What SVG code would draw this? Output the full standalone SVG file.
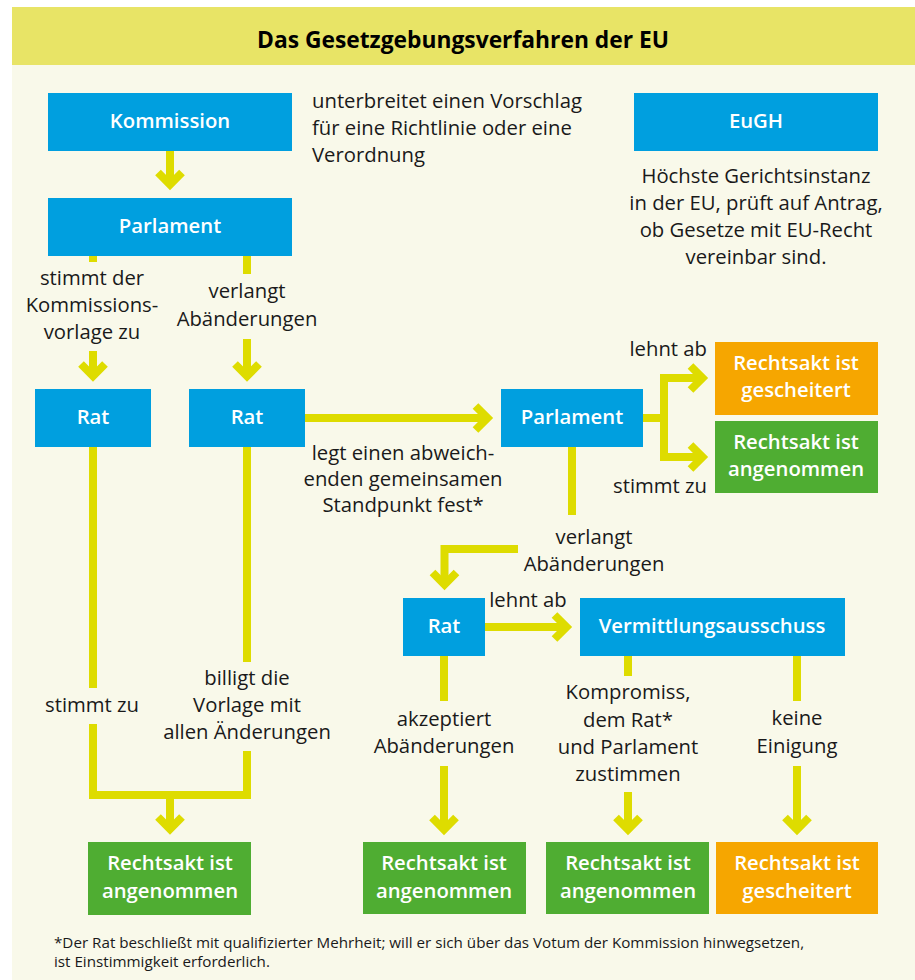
<svg xmlns="http://www.w3.org/2000/svg" width="915" height="980" viewBox="0 0 915 980">
<style>
.t{font-family:"Open Sans","Noto Sans","Liberation Sans",sans-serif;font-size:20.3px;fill:#1a1a1a}
.c{text-anchor:middle}
.r{text-anchor:end}
.b{font-family:"Open Sans","Noto Sans","Liberation Sans",sans-serif;font-size:20.3px;font-weight:600;fill:#ffffff;text-anchor:middle}
.blue{fill:#009fdf}
.green{fill:#4fad32}
.orange{fill:#f6a600}
.ln{fill:none;stroke:#dedc00;stroke-width:8;stroke-linejoin:miter;stroke-linecap:butt}
.ar{marker-end:url(#chev)}
.fn{font-family:"Open Sans","Noto Sans","Liberation Sans",sans-serif;font-size:15.2px;fill:#1a1a1a}
</style>
<defs>
<marker id="chev" markerUnits="userSpaceOnUse" viewBox="-20 -20 30 40" markerWidth="30" markerHeight="40" refX="0" refY="0" orient="auto" overflow="visible">
<path d="M-12,-12 L0,0 L-12,12" fill="none" stroke="#dedc00" stroke-width="8" stroke-linejoin="miter"/>
</marker>
</defs>
<rect x="0" y="0" width="915" height="980" fill="#ffffff"/>
<rect x="12" y="7" width="903" height="973" fill="#f9f9ea"/>
<rect x="12" y="7" width="903" height="58" fill="#e8e466"/>
<text x="463" y="48" class="t c" style="font-size:22.8px;font-weight:700;fill:#000">Das Gesetzgebungsverfahren der EU</text>

<g id="connectors">
<path class="ln ar" d="M170,151 V184.5"/>
<path class="ln" d="M93,256 V262"/>
<path class="ln ar" d="M93,351 V376"/>
<path class="ln" d="M247,256 V274"/>
<path class="ln ar" d="M247,339 V376"/>
<path class="ln ar" d="M305,418 H487.5"/>
<path class="ln" d="M643,418 H664"/>
<path class="ln ar" d="M702.5,457 H664 V378 H702.5"/>
<path class="ln ar" d="M664,457 H702.5"/>
<path class="ln" d="M572,447 V515"/>
<path class="ln ar" d="M518,549 H444.5 V584.5"/>
<path class="ln ar" d="M485,627 H566.5"/>
<path class="ln" d="M93,447 V688"/>
<path class="ln" d="M247,447 V662"/>
<path class="ln" d="M93,724 V795 H247 V751"/>
<path class="ln ar" d="M170,795 V829"/>
<path class="ln" d="M444,656 V701"/>
<path class="ln ar" d="M444,766 V829.5"/>
<path class="ln" d="M628,656 V676"/>
<path class="ln ar" d="M628,792 V829.5"/>
<path class="ln" d="M797,656 V701"/>
<path class="ln ar" d="M797,766 V829.5"/>
</g>

<g id="labels">
<text class="t" x="312" y="108">unterbreitet einen Vorschlag</text>
<text class="t" x="312" y="135">für eine Richtlinie oder eine</text>
<text class="t" x="312" y="162">Verordnung</text>
<text class="t c" x="756" y="183">Höchste Gerichtsinstanz</text>
<text class="t c" x="756" y="210">in der EU, prüft auf Antrag,</text>
<text class="t c" x="756" y="237">ob Gesetze mit EU-Recht</text>
<text class="t c" x="756" y="264">vereinbar sind.</text>
<text class="t c" x="92" y="285">stimmt der</text>
<text class="t c" x="92" y="312">Kommissions-</text>
<text class="t c" x="92" y="339">vorlage zu</text>
<text class="t c" x="247" y="298">verlangt</text>
<text class="t c" x="247" y="326">Abänderungen</text>
<text class="t c" x="403" y="460">legt einen abweich-</text>
<text class="t c" x="403" y="486">enden gemeinsamen</text>
<text class="t c" x="403" y="512">Standpunkt fest*</text>
<text class="t r" x="707" y="356">lehnt ab</text>
<text class="t r" x="707" y="493">stimmt zu</text>
<text class="t c" x="594" y="544">verlangt</text>
<text class="t c" x="594" y="571">Abänderungen</text>
<text class="t c" x="528" y="607">lehnt ab</text>
<text class="t c" x="92" y="712">stimmt zu</text>
<text class="t c" x="247" y="685">billigt die</text>
<text class="t c" x="247" y="712">Vorlage mit</text>
<text class="t c" x="247" y="739">allen Änderungen</text>
<text class="t c" x="444" y="726">akzeptiert</text>
<text class="t c" x="444" y="753">Abänderungen</text>
<text class="t c" x="628" y="699">Kompromiss,</text>
<text class="t c" x="628" y="727">dem Rat*</text>
<text class="t c" x="628" y="754">und Parlament</text>
<text class="t c" x="628" y="781">zustimmen</text>
<text class="t c" x="797" y="725">keine</text>
<text class="t c" x="797" y="753">Einigung</text>
<text class="fn" x="54" y="948">*Der Rat beschließt mit qualifizierter Mehrheit; will er sich über das Votum der Kommission hinwegsetzen,</text>
<text class="fn" x="54" y="967">ist Einstimmigkeit erforderlich.</text>
</g>

<g id="kommission"><rect class="blue" x="48" y="93" width="244" height="58"/><text class="b" x="170" y="128">Kommission</text></g>
<g id="eugh"><rect class="blue" x="634" y="93" width="244" height="58"/><text class="b" x="756" y="128">EuGH</text></g>
<g id="parlament1"><rect class="blue" x="48" y="198" width="244" height="58"/><text class="b" x="170" y="233">Parlament</text></g>
<g id="rat1"><rect class="blue" x="35" y="389" width="116" height="58"/><text class="b" x="93" y="424">Rat</text></g>
<g id="rat2"><rect class="blue" x="189" y="389" width="116" height="58"/><text class="b" x="247" y="424">Rat</text></g>
<g id="parlament2"><rect class="blue" x="501" y="389" width="142" height="58"/><text class="b" x="572" y="424">Parlament</text></g>
<g id="gescheitert1"><rect class="orange" x="715" y="342" width="163" height="73"/><text class="b" x="796" y="370">Rechtsakt ist</text><text class="b" x="796" y="397">gescheitert</text></g>
<g id="angenommen1"><rect class="green" x="715" y="421" width="163" height="72"/><text class="b" x="796" y="449">Rechtsakt ist</text><text class="b" x="796" y="476">angenommen</text></g>
<g id="rat3"><rect class="blue" x="403" y="598" width="82" height="58"/><text class="b" x="444" y="633">Rat</text></g>
<g id="vermittlung"><rect class="blue" x="580" y="598" width="265" height="58"/><text class="b" x="712" y="633">Vermittlungsausschuss</text></g>
<g id="angenommen2"><rect class="green" x="88" y="842" width="163" height="73"/><text class="b" x="170" y="870">Rechtsakt ist</text><text class="b" x="170" y="898">angenommen</text></g>
<g id="angenommen3"><rect class="green" x="363" y="842" width="163" height="72"/><text class="b" x="444" y="870">Rechtsakt ist</text><text class="b" x="444" y="898">angenommen</text></g>
<g id="angenommen4"><rect class="green" x="546" y="842" width="163" height="72"/><text class="b" x="628" y="870">Rechtsakt ist</text><text class="b" x="628" y="898">angenommen</text></g>
<g id="gescheitert2"><rect class="orange" x="716" y="842" width="162" height="72"/><text class="b" x="797" y="870">Rechtsakt ist</text><text class="b" x="797" y="898">gescheitert</text></g>
</svg>
